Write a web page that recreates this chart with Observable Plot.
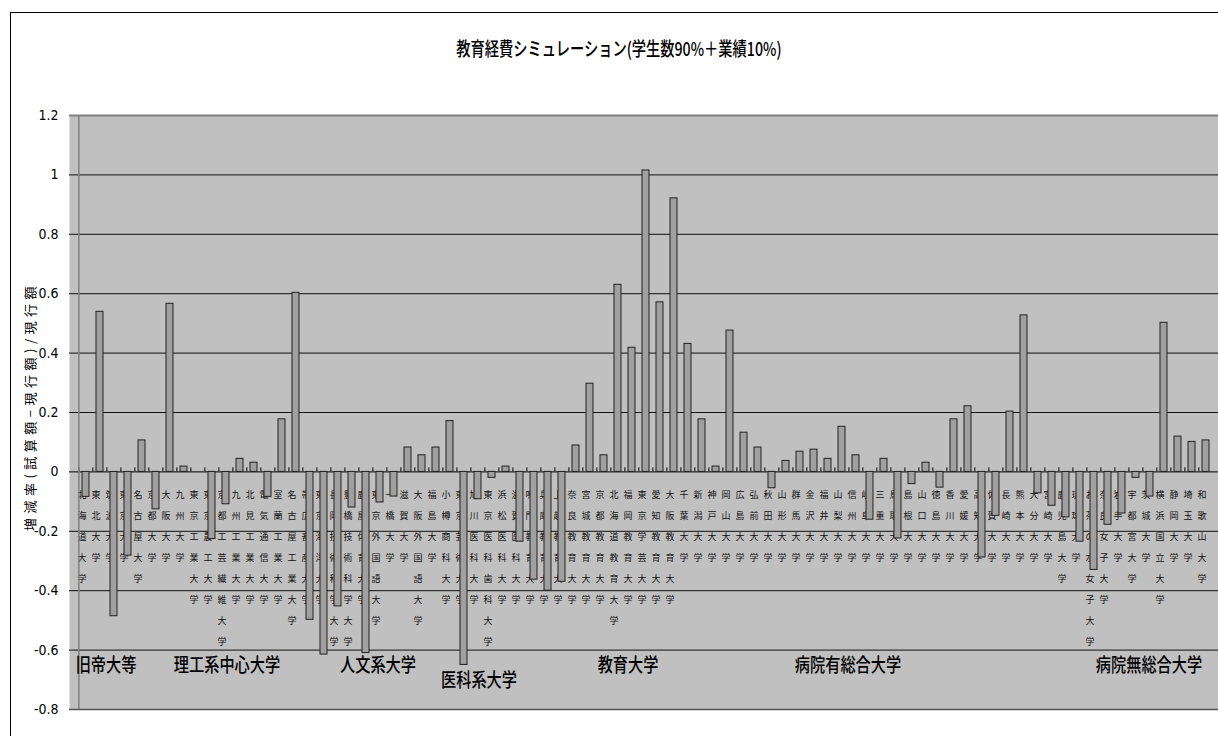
<!DOCTYPE html>
<html><head><meta charset="utf-8">
<script src="https://cdn.jsdelivr.net/npm/d3@7"></script>
<script src="https://cdn.jsdelivr.net/npm/@observablehq/plot@0.6"></script>
<style>
html,body{margin:0;padding:0;background:#fff;overflow:hidden;}
#wrap{position:relative;width:1218px;height:736px;overflow:hidden;}
#border{position:absolute;left:10px;top:12px;width:1400px;height:1000px;border-left:1px solid #000;border-top:1px solid #000;pointer-events:none;}
#title{position:absolute;top:36px;left:0;width:1238px;text-align:center;font-family:"Noto Sans CJK JP",sans-serif;font-size:19px;font-weight:500;color:#000;line-height:24px;}
#title span{display:inline-block;transform:scaleX(0.75);transform-origin:center;white-space:nowrap;}
#chart{position:absolute;left:0;top:0;}
.ytitle text{letter-spacing:4.5px;}
</style></head>
<body><div id="wrap"><div id="chart"></div><div id="border"></div><div id="title"><span>教育経費シミュレーション(学生数90%＋業績10%)</span></div></div>
<script>
const categories = ["北海道大学","東北大学","筑波大学","東京大学","名古屋大学","京都大学","大阪大学","九州大学",
"東京工業大学","東京農工大学","京都工芸繊維大学","九州工業大学","北見工業大学","電気通信大学","室蘭工業大学","名古屋工業大学",
"帯広畜産大学","東京海洋大学","長岡技術科学大学","豊橋技術科学大学","鹿屋体育大学","東京外国語大学","一橋大学","滋賀大学",
"大阪外国語大学","福島大学","小樽商科大学","東京芸術大学","旭川医科大学","東京医科歯科大学","浜松医科大学","滋賀医科大学",
"鳴門教育大学","兵庫教育大学","上越教育大学","奈良教育大学","宮城教育大学","京都教育大学","北海道教育大学","福岡教育大学",
"東京学芸大学","愛知教育大学","大阪教育大学","千葉大学","新潟大学","神戸大学","岡山大学","広島大学","弘前大学","秋田大学",
"山形大学","群馬大学","金沢大学","福井大学","山梨大学","信州大学","岐阜大学","三重大学","鳥取大学","島根大学","山口大学",
"徳島大学","香川大学","愛媛大学","高知大学","佐賀大学","長崎大学","熊本大学","大分大学","宮崎大学","鹿児島大学","琉球大学",
"お茶の水女子大学","奈良女子大学","岩手大学","宇都宮大学","茨城大学","横浜国立大学","静岡大学","埼玉大学","和歌山大学"];

const values = [-0.084,0.539,-0.486,-0.282,0.106,-0.126,0.566,0.018,
0,-0.226,-0.109,0.044,0.031,-0.084,0.177,0.603,
-0.498,-0.615,-0.453,-0.12,-0.61,-0.103,-0.083,0.082,
0.056,0.082,0.171,-0.65,-0.092,-0.02,0.018,-0.235,
-0.363,-0.40,-0.37,0.089,0.297,0.056,0.63,0.418,
1.015,0.571,0.921,0.431,0.177,0.018,0.476,0.132,0.082,-0.055,
0.037,0.068,0.075,0.044,0.152,0.056,-0.161,0.044,-0.224,-0.041,0.031,
-0.053,0.177,0.221,-0.288,-0.148,0.203,0.527,-0.072,-0.114,-0.153,-0.235,
-0.33,-0.178,-0.14,-0.02,-0.083,0.502,0.119,0.101,0.106];

const yTicks = [1.2,1,0.8,0.6,0.4,0.2,0,-0.2,-0.4,-0.6,-0.8];
const groupNames = ["旧帝大等","理工系中心大学","人文系大学","医科系大学","教育大学","病院有総合大学","病院無総合大学"];
const groupAnchors = ["筑波大学","京都工芸繊維大学","東京外国語大学","旭川医科大学","福岡教育大学","山梨大学","茨城大学"];
const yTitle = "増減率(試算額−現行額)/現行額";

// layout (styling only)
const groupNudge = [-8,1,-2,1,-4,6,-1];
const groupLow = [false,false,false,true,false,false,false];

const data = categories.map((c,i)=>({name:c, value:values[i]}));
const groups = groupNames.map((g,i)=>({name:g, at:groupAnchors[i], dx:groupNudge[i], low:groupLow[i]}));
const n = categories.length;
const step = 14.24, left = 69;
const cjk = "'Noto Sans CJK JP', sans-serif";
const narrow = "'Liberation Sans Narrow','DejaVu Sans Condensed',sans-serif";

const marks = [
  Plot.frame({fill:"#c0c0c0", stroke:"none"}),
  Plot.ruleY(yTicks.filter(d=>d!==0 && d!==1.2 && d!==-0.8), {stroke:"#111", strokeWidth:1}),
  Plot.text(data, {x:"name", y:0, text:d=>[...d.name].join("\n"), lineHeight:2.33, fontSize:9,
    lineAnchor:"top", dy:11, dx:-4, fill:"#111", fontFamily:cjk}),
  Plot.ruleY([0], {stroke:"#000", strokeWidth:1}),
  Plot.ruleX(categories, {x:d=>d, y1:0, y2:0, insetTop:-4, dx:-step/2, stroke:"#000"}),
  Plot.barY(data, {x:"name", y:"value", fill:"#a0a0a0", stroke:"#222", strokeWidth:1}),
  Plot.ruleY([1.2], {stroke:"#808080", strokeWidth:2}),
  Plot.ruleY([-0.8], {stroke:"#555", strokeWidth:1.5}),
  Plot.ruleX([categories[0]], {x:d=>d, dx:-step/2, stroke:"#808080", strokeWidth:1.5}),
  Plot.axisY({ticks:yTicks, tickSize:0, tickPadding:11, tickFormat:d=>String(+d.toFixed(1)),
    fontSize:14, fontFamily:narrow, label:null}),
  Plot.text([yTitle], {frameAnchor:"left", rotate:-90, dx:-39, dy:-6, fontSize:13, fontFamily:cjk, fill:"#000",
    textAnchor:"middle", className:"ytitle"}),
];
groups.forEach(g=>{
  marks.push(Plot.text([g], {x:"at", text:"name", frameAnchor:"bottom", dy:g.low?-23:-38, dx:g.dx,
    fontSize:19, fontWeight:500, fontFamily:cjk, fill:"#000", textAnchor:"middle", className:"grp"}));
});

const chart = Plot.plot({
  width:1218, height:736, marginTop:115, marginBottom:27, marginLeft:69, marginRight:0,
  style:{background:"transparent", overflow:"visible"},
  x:{type:"band", domain:categories, range:[left, left+n*step], paddingInner:0.53, paddingOuter:0.265, axis:null},
  y:{domain:[-0.8,1.2], axis:null},
  marks
});
// condense the group captions horizontally (narrow face as in the reference)
d3.select(chart).selectAll(".grp text").each(function(){
  const t = this.getAttribute("transform");
  if (t) { this.setAttribute("transform", t + " scale(0.8,1)"); }
  else {
    const x = +(this.getAttribute("x")||0), y = +(this.getAttribute("y")||0);
    this.setAttribute("transform", `translate(${x},${y}) scale(0.8,1) translate(${-x},${-y})`);
  }
});
document.getElementById("chart").appendChild(chart);
</script>
</body></html>
